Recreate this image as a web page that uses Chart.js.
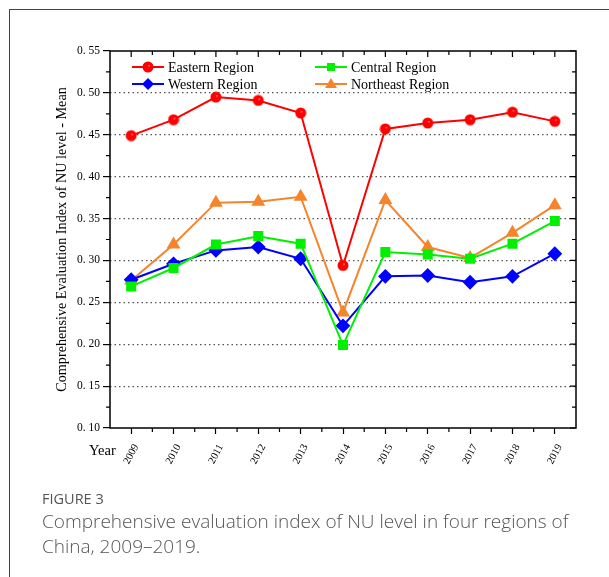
<!DOCTYPE html>
<html>
<head>
<meta charset="utf-8">
<script src="https://cdn.jsdelivr.net/npm/chart.js@4/dist/chart.umd.min.js"></script>
<style>
  html, body { margin: 0; padding: 0; background: #fff; }
  #page { position: relative; width: 609px; height: 577px; overflow: hidden; }
  #frame { position: absolute; left: 9px; top: 9px; width: 620px; height: 600px;
           border-left: 1.5px solid #444; border-top: 1.5px solid #444; }
  #chartBox { position: absolute; left: 0; top: 0; width: 609px; height: 577px; }
  .cap { position: absolute; left: 42px; font-family: "Open Sans", sans-serif; white-space: nowrap; }
  #figNo { top: 489px; font-size: 14.5px; color: #555; }
  #figText { top: 509px; font-size: 19px; line-height: 25px; font-weight: 300; color: #555; }
</style>
</head>
<body>
<div id="page">
  <div id="frame"></div>
  <div id="chartBox"><canvas id="c" width="609" height="577"></canvas></div>
  <div class="cap" id="figNo">FIGURE 3</div>
  <div class="cap" id="figText">Comprehensive evaluation index of NU level in four regions of<br>China, 2009–2019.</div>
</div>
<script>
// Years on the x axis
const years = ['2009','2010','2011','2012','2013','2014','2015','2016','2017','2018','2019'];

// Mean comprehensive evaluation index per region
const eastern   = [0.449, 0.468, 0.495, 0.491, 0.476, 0.294, 0.457, 0.464, 0.468, 0.477, 0.466];
const central   = [0.269, 0.291, 0.319, 0.329, 0.320, 0.199, 0.310, 0.307, 0.302, 0.320, 0.347];
const western   = [0.277, 0.296, 0.312, 0.316, 0.302, 0.222, 0.281, 0.282, 0.274, 0.281, 0.308];
const northeast = [0.276, 0.319, 0.369, 0.370, 0.376, 0.238, 0.372, 0.316, 0.303, 0.333, 0.366];

// Y axis range and tick step
const yMin = 0.10, yMax = 0.55, yStep = 0.05;

const serif = '"Liberation Serif", "Times New Roman", serif';

// Shaded sphere marker for the Eastern series
function sphere(color) {
  const s = 12, cv = document.createElement('canvas');
  cv.width = s; cv.height = s;
  const g = cv.getContext('2d');
  g.beginPath(); g.arc(s/2, s/2, s/2 - 0.5, 0, Math.PI * 2);
  g.fillStyle = color; g.fill();
  const hx = s/2 + 1, hy = s/2 - 1.2;
  const grad = g.createRadialGradient(hx, hy, 0, hx, hy, 1.4);
  grad.addColorStop(0, 'rgba(255,235,235,0.9)');
  grad.addColorStop(1, 'rgba(255,80,80,0)');
  g.beginPath(); g.arc(hx, hy, 1.4, 0, Math.PI * 2);
  g.fillStyle = grad; g.fill();
  return cv;
}
const ball = sphere('#ff0000');

// Frame, minor ticks, inward ticks on top/right, "Year" label and inset legend
const framePlugin = {
  id: 'framePlugin',
  afterDraw(chart) {
    const { ctx, chartArea: a, scales } = chart;
    const x = scales.x, y = scales.y;
    ctx.save();
    ctx.strokeStyle = '#000';
    ctx.lineWidth = 1.5;
    ctx.strokeRect(a.left, a.top, a.right - a.left, a.bottom - a.top);
    ctx.lineWidth = 1.2;
    ctx.beginPath();
    // x ticks: major at years, minor halfway between
    for (let i = 0; i < years.length; i++) {
      const px = x.getPixelForValue(i);
      ctx.moveTo(px, a.top); ctx.lineTo(px, a.top + 6);
      if (i < years.length - 1) {
        const mx = (px + x.getPixelForValue(i + 1)) / 2;
        ctx.moveTo(mx, a.top); ctx.lineTo(mx, a.top + 4);
        ctx.moveTo(mx, a.bottom); ctx.lineTo(mx, a.bottom + 4);
      }
    }
    // y ticks: major on the right (inward), minor on both sides
    for (let v = yMin; v <= yMax + 1e-9; v += yStep / 2) {
      const py = y.getPixelForValue(v);
      const major = Math.abs(Math.round(v / yStep) * yStep - v) < 1e-6;
      if (major) {
        ctx.moveTo(a.right, py); ctx.lineTo(a.right - 6, py);
      } else {
        ctx.moveTo(a.right, py); ctx.lineTo(a.right - 4, py);
        ctx.moveTo(a.left, py); ctx.lineTo(a.left - 4, py);
      }
    }
    ctx.stroke();

    // "Year" label beside the x tick labels
    ctx.fillStyle = '#000';
    ctx.font = '14.5px ' + serif;
    ctx.textAlign = 'left';
    ctx.textBaseline = 'middle';
    ctx.fillText('Year', 89, 451);

    // Legend, two columns inside the plot
    const slots = [[132, 67], [132, 84], [315, 67], [315, 84]];
    const order = [0, 2, 1, 3];
    chart.data.datasets.forEach((ds, i) => {
      const [lx, ly] = slots[order[i]];
      ctx.strokeStyle = ds.borderColor;
      ctx.lineWidth = 2;
      ctx.beginPath(); ctx.moveTo(lx, ly); ctx.lineTo(lx + 32, ly); ctx.stroke();
      const cx = lx + 16;
      ctx.fillStyle = ds.backgroundColor;
      ctx.beginPath();
      if (ds.pointStyle instanceof HTMLCanvasElement) {
        ctx.drawImage(ds.pointStyle, cx - 6, ly - 6);
      } else if (ds.pointStyle === 'rect') {
        ctx.fillRect(cx - 4, ly - 4, 8, 8);
      } else if (ds.pointStyle === 'rectRot') {
        ctx.moveTo(cx, ly - 6); ctx.lineTo(cx + 6, ly); ctx.lineTo(cx, ly + 6); ctx.lineTo(cx - 6, ly);
        ctx.closePath(); ctx.fill();
      } else if (ds.pointStyle === 'triangle') {
        ctx.moveTo(cx, ly - 6); ctx.lineTo(cx + 6, ly + 4); ctx.lineTo(cx - 6, ly + 4);
        ctx.closePath(); ctx.fill();
      }
      ctx.fillStyle = '#000';
      ctx.font = '14px ' + serif;
      ctx.fillText(ds.label, lx + 36, ly + 1);
    });
    ctx.restore();
  }
};

function series(label, data, color, style, radius) {
  return {
    label, data,
    borderColor: color, backgroundColor: color,
    pointBackgroundColor: color, pointBorderColor: color,
    pointStyle: style, pointRadius: radius, pointHoverRadius: radius,
    borderWidth: 2, tension: 0, fill: false
  };
}

new Chart(document.getElementById('c'), {
  type: 'line',
  data: {
    labels: years,
    datasets: [
      series('Eastern Region', eastern, '#ff0000', ball, 6),
      series('Central Region', central, '#00f000', 'rect', 5.7),
      series('Western Region', western, '#0000ff', 'rectRot', 6),
      series('Northeast Region', northeast, '#f5842c', 'triangle', 6)
    ]
  },
  options: {
    responsive: false,
    animation: false,
    devicePixelRatio: 1,
    layout: { padding: { left: 0, top: 51, right: 33, bottom: 0 } },
    plugins: { legend: { display: false }, tooltip: { enabled: false } },
    scales: {
      x: {
        type: 'category',
        offset: true,
        afterFit(s) { s.height = 149; },
        grid: { display: true, drawOnChartArea: false, drawTicks: true, tickLength: 6,
                tickColor: '#000', tickWidth: 1.2, offset: false },
        border: { display: false },
        ticks: { minRotation: 62, maxRotation: 62, padding: 8, labelOffset: 5, color: '#000',
                 font: { family: serif, size: 10.5 } }
      },
      y: {
        min: yMin, max: yMax,
        afterFit(s) { s.width = 110; },
        afterBuildTicks(s) {
          const t = [];
          for (let v = yMin; v <= yMax + 1e-9; v += yStep) t.push({ value: Math.round(v * 100) / 100 });
          s.ticks = t;
        },
        grid: {
          color: c => (c.tick && (c.tick.value <= yMin + 1e-6 || c.tick.value >= yMax - 1e-6)) ? 'rgba(0,0,0,0)' : '#555',
          lineWidth: 1.2,
          tickColor: '#000', tickLength: 7, tickWidth: 1.2, tickBorderDash: []
        },
        border: { display: false, dash: [1.5, 3] },
        ticks: {
          padding: 3, color: '#000',
          font: { family: serif, size: 11.5 },
          callback: v => v.toFixed(2).replace('.', '. ')
        },
        title: {
          display: true,
          text: 'Comprehensive Evaluation Index of NU level - Mean',
          color: '#000',
          font: { family: serif, size: 14.2 },
          padding: { top: 54, bottom: 0 }
        }
      }
    }
  },
  plugins: [framePlugin]
});
</script>
</body>
</html>
